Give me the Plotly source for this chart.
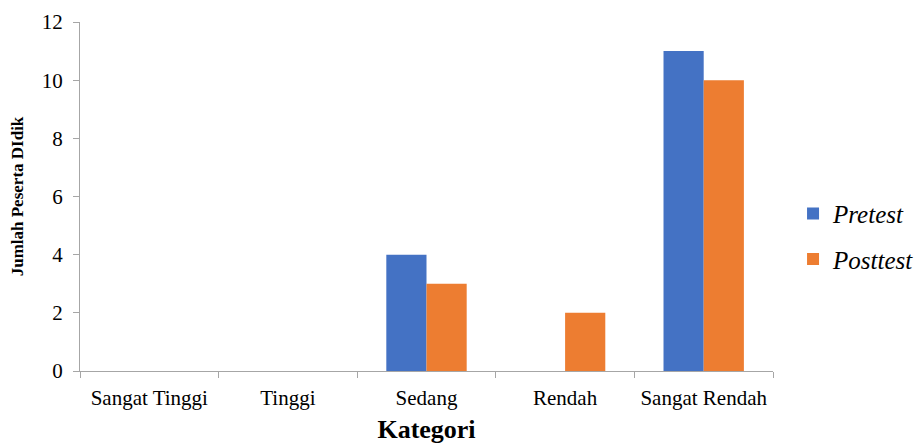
import plotly.graph_objects as go

categories = ["Sangat Tinggi", "Tinggi", "Sedang", "Rendah", "Sangat Rendah"]
pretest = [0, 0, 4, 0, 11]
posttest = [0, 0, 3, 2, 10]
y_ticks = [0, 2, 4, 6, 8, 10, 12]

serif = "Liberation Serif"
axis_grey = "#a6a6a6"

fig = go.Figure()
fig.add_trace(go.Bar(x=categories, y=pretest, name="<i>Pretest</i>",
                     marker=dict(color="#4472c4", line=dict(width=0)),
                     legendgroup="pre"))
fig.add_trace(go.Bar(x=categories, y=posttest, name="<i>Posttest</i>",
                     marker=dict(color="#ed7d31", line=dict(width=0)),
                     legendgroup="post"))

fig.update_layout(
    width=920, height=444,
    margin=dict(l=80, r=147, t=22, b=73, autoexpand=False),
    paper_bgcolor="white", plot_bgcolor="white",
    barmode="group", bargap=0.42, bargroupgap=0,
    font=dict(family=serif, size=20, color="#000000"),
    showlegend=True,
    legend=dict(xref="container", yref="container", x=0.862, y=0.468,
                xanchor="left", yanchor="middle",
                font=dict(family=serif, size=25, color="#000000"),
                traceorder="grouped", tracegroupgap=10,
                itemwidth=30, bgcolor="rgba(0,0,0,0)"),
    xaxis=dict(
        showline=True, linecolor=axis_grey, linewidth=1,
        ticks="outside", tickson="boundaries", ticklen=6, tickcolor=axis_grey,
        tickfont=dict(family=serif, size=21), ticklabelstandoff=8,
        title=dict(text="<b>Kategori</b>", font=dict(family=serif, size=26), standoff=11),
        showgrid=False, zeroline=False,
    ),
    yaxis=dict(
        range=[0, 12], tickvals=y_ticks,
        showline=True, linecolor=axis_grey, linewidth=1,
        ticks="outside", ticklen=6, tickcolor=axis_grey,
        tickfont=dict(family=serif, size=21), ticklabelstandoff=6,
        title=dict(text="<b>Jumlah Peserta DIdik</b>", font=dict(family=serif, size=17), standoff=13),
        showgrid=False, zeroline=False,
    ),
)

fig.write_html("out.html")
